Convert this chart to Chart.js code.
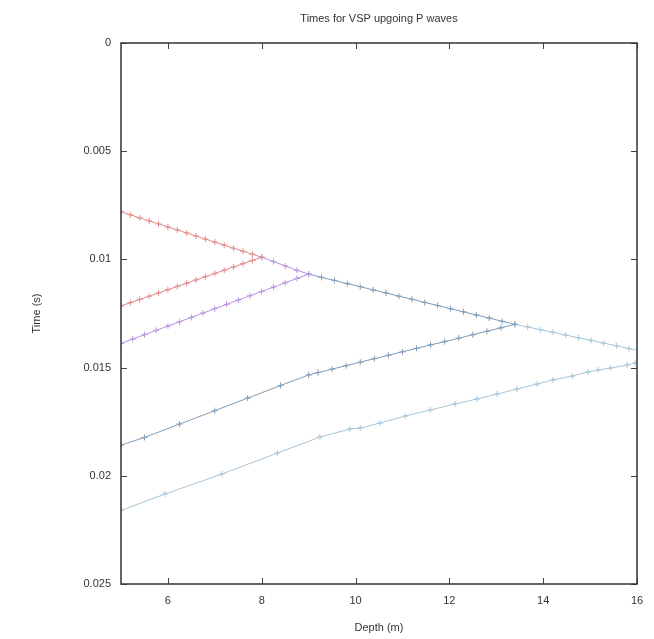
<!DOCTYPE html>
<html>
<head>
<meta charset="utf-8">
<script src="https://cdn.jsdelivr.net/npm/chart.js@4/dist/chart.umd.min.js"></script>
<style>
  html, body { margin: 0; padding: 0; background: #fff; }
  #wrap { width: 654px; height: 639px; position: relative; }
</style>
</head>
<body>
<div id="wrap"><canvas id="vspChart"></canvas></div>
<script>
const chartTitle = 'Times for VSP upgoing P waves';
const xTicks = [6, 8, 10, 12, 14, 16];
const yTicks = [0, 0.005, 0.01, 0.015, 0.02, 0.025];

// reflector at 8 m
const redDepth = [5.0, 5.2, 5.4, 5.6, 5.8, 6.0, 6.2, 6.4, 6.6, 6.8, 7.0, 7.2, 7.4, 7.6, 7.8, 8.0,
  7.8, 7.6, 7.4, 7.2, 7.0, 6.8, 6.6, 6.4, 6.2, 6.0, 5.8, 5.6, 5.4, 5.2, 5.0];
const redTime = [0.00780, 0.00794, 0.00808, 0.00822, 0.00836, 0.00850, 0.00864, 0.00878, 0.00892, 0.00906, 0.00920, 0.00934, 0.00948, 0.00962, 0.00976, 0.00990,
  0.01005, 0.01020, 0.01035, 0.01050, 0.01065, 0.01080, 0.01095, 0.01110, 0.01125, 0.01140, 0.01155, 0.01170, 0.01185, 0.01200, 0.01215];

// reflector at 9 m
const purpleDepth = [8.0, 8.25, 8.5, 8.75, 9.0,
  8.75, 8.5, 8.25, 8.0, 7.75, 7.5, 7.25, 7.0, 6.75, 6.5, 6.25, 6.0, 5.75, 5.5, 5.25, 5.0];
const purpleTime = [0.00990, 0.01010, 0.01030, 0.01050, 0.01068,
  0.01088, 0.01108, 0.01128, 0.01148, 0.01168, 0.01188, 0.01208, 0.01228, 0.01248, 0.01268, 0.01288, 0.01308, 0.01328, 0.01348, 0.01368, 0.01388];

// reflector at 13.4 m
const steelDepth = [9.0, 9.275, 9.55, 9.825, 10.1, 10.375, 10.65, 10.925, 11.2, 11.475, 11.75, 12.025, 12.3, 12.575, 12.85, 13.125, 13.4,
  13.1, 12.8, 12.5, 12.2, 11.9, 11.6, 11.3, 11.0, 10.7, 10.4, 10.1, 9.8, 9.5, 9.2, 9.0,
  8.4, 7.7, 7.0, 6.25, 5.5, 5.0];
const steelTime = [0.01068, 0.01083, 0.01097, 0.01112, 0.01126, 0.01141, 0.01155, 0.01170, 0.01184, 0.01199, 0.01213, 0.01228, 0.01242, 0.01257, 0.01271, 0.01286, 0.01300,
  0.01316, 0.01332, 0.01348, 0.01364, 0.01380, 0.01395, 0.01411, 0.01427, 0.01443, 0.01459, 0.01475, 0.01491, 0.01507, 0.01523, 0.01534,
  0.01583, 0.01641, 0.01699, 0.01761, 0.01823, 0.01858];

// reflector just past the plotted range
const lightDepth = [13.4, 13.67, 13.94, 14.21, 14.48, 14.75, 15.02, 15.29, 15.56, 15.83, 16.1, 16.35, 16.6,
  16.3, 15.96, 15.79, 15.43, 15.17, 14.96, 14.62, 14.21, 13.87, 13.44, 13.02, 12.59, 12.12, 11.59, 11.06, 10.52, 10.10, 9.88, 9.24, 8.33, 7.15, 5.94, 5.0];
const lightTime = [0.01300, 0.01312, 0.01325, 0.01337, 0.01350, 0.01362, 0.01374, 0.01387, 0.01399, 0.01412, 0.01424, 0.01436, 0.01447,
  0.01462, 0.01479, 0.01488, 0.01502, 0.01511, 0.01520, 0.01539, 0.01557, 0.01576, 0.01599, 0.01622, 0.01645, 0.01668, 0.01696, 0.01724, 0.01756, 0.01779, 0.01784, 0.01821, 0.01895, 0.01992, 0.02084, 0.02160];

function series(depth, time, color) {
    return {
        data: depth.map((d, i) => ({ x: d, y: time[i] })),
        borderColor: color,
        backgroundColor: color,
        borderWidth: 1,
        showLine: true,
        pointStyle: 'cross',
        pointRadius: 3,
        pointBorderWidth: 1,
        pointHoverRadius: 3
    };
}

// gnuplot-like frame: border box, inward ticks on all sides, title over plot area
const frame = {
    id: 'frame',
    afterDatasetsDraw(chart) {
        const { ctx, chartArea: a, scales: { x, y } } = chart;
        ctx.save();
        ctx.strokeStyle = '#444';
        ctx.lineWidth = 1;
        ctx.beginPath();
        xTicks.forEach(v => {
            const px = Math.round(x.getPixelForValue(v)) + 0.5;
            ctx.moveTo(px, a.bottom); ctx.lineTo(px, a.bottom - 6);
            ctx.moveTo(px, a.top); ctx.lineTo(px, a.top + 6);
        });
        yTicks.forEach(v => {
            const py = Math.round(y.getPixelForValue(v)) + 0.5;
            ctx.moveTo(a.left, py); ctx.lineTo(a.left + 6, py);
            ctx.moveTo(a.right, py); ctx.lineTo(a.right - 6, py);
        });
        ctx.stroke();
        ctx.lineWidth = 1.5;
        ctx.strokeStyle = '#333';
        ctx.strokeRect(a.left, a.top, a.right - a.left, a.bottom - a.top);
        ctx.fillStyle = '#333';
        ctx.font = '11px "Liberation Sans", Arial, sans-serif';
        ctx.textAlign = 'center';
        ctx.textBaseline = 'middle';
        ctx.fillText(chartTitle, (a.left + a.right) / 2, 19);
        ctx.restore();
    }
};

const font = { family: '"Liberation Sans", Arial, sans-serif', size: 11 };

new Chart(document.getElementById('vspChart').getContext('2d'), {
    type: 'scatter',
    data: {
        datasets: [
            series(redDepth, redTime, 'rgb(228,138,138)'),
            series(purpleDepth, purpleTime, 'rgb(186,146,226)'),
            series(steelDepth, steelTime, 'rgb(126,156,184)'),
            series(lightDepth, lightTime, 'rgb(166,198,216)')
        ]
    },
    options: {
        responsive: true,
        maintainAspectRatio: false,
        animation: false,
        layout: { padding: { left: 26, right: 17, top: 43, bottom: 0 } },
        plugins: {
            legend: { display: false },
            title: { display: false },
            tooltip: { enabled: false }
        },
        scales: {
            x: {
                type: 'linear',
                min: 5,
                max: 16,
                grid: { display: false, drawTicks: false },
                border: { display: false },
                afterBuildTicks: s => { s.ticks = xTicks.map(v => ({ value: v })); },
                afterFit: s => { s.height = 55; },
                ticks: { font, color: '#333', padding: 10, maxRotation: 0, callback: v => String(v) },
                title: { display: true, text: 'Depth (m)', font, color: '#333', padding: { top: 4, bottom: 4 } }
            },
            y: {
                type: 'linear',
                reverse: true,
                min: 0,
                max: 0.025,
                grid: { display: false, drawTicks: false },
                border: { display: false },
                afterBuildTicks: s => { s.ticks = yTicks.map(v => ({ value: v })); },
                afterFit: s => { s.width = 95; },
                ticks: { font, color: '#333', padding: 10, callback: v => String(v) },
                title: { display: true, text: 'Time (s)', font, color: '#333', padding: { top: 4, bottom: 4 } }
            }
        }
    },
    plugins: [frame]
});
</script>
</body>
</html>
